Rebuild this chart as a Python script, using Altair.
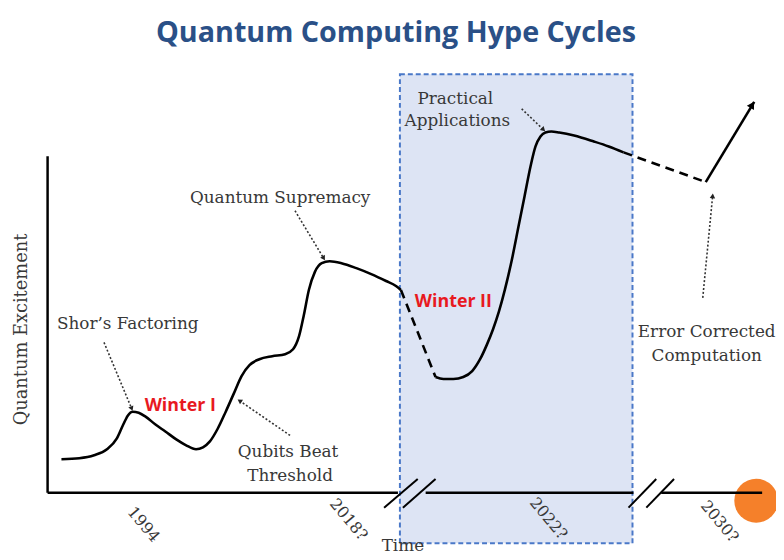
import altair as alt
import pandas as pd

# ---- data (time units / excitement units) ----
c1_x = [14, 32, 47, 60, 70, 76, 81, 86, 92, 99, 109, 119, 130, 140, 150, 157, 164, 172, 180, 188, 196, 204, 214, 227, 240, 248, 254, 259, 264, 270, 277, 285, 297, 312, 327, 342, 352, 357]
c1_y = [34, 35, 38, 44, 55, 68, 78, 82, 81, 77, 69, 62, 54, 48, 44, 46, 52, 65, 82, 100, 118, 129, 135, 138, 140, 145, 158, 180, 205, 223, 232, 234, 232, 227, 221, 214, 209, 205]
c2_x = [357, 392]
c2_y = [205, 117]
c3_x = [392, 400, 410, 420, 429, 437, 444, 450, 456, 462, 469, 476, 482, 488, 493, 498, 503, 509, 517, 532, 552, 567, 582]
c3_y = [117, 115, 115, 117, 123, 135, 150, 165, 183, 205, 235, 270, 300, 330, 350, 360, 364, 365, 364, 361, 355, 350, 344]
c4_x = [582, 665]
c4_y = [344, 314]
arrow_x = [665, 714]
arrow_y = [314, 395]

# dotted annotation arrows: start -> end
ann_x = [57, 245, 250, 479, 662]
ann_y = [152, 58, 285, 388, 197]
ann_x2 = [85, 194, 279, 501, 672]
ann_y2 = [85, 93, 237, 367, 300]
ann_angle = [157, 304, 149, 134, 5]

ann_labels = ["Quantum Supremacy", "Shor\u2019s Factoring", "Qubits Beat", "Threshold",
              "Practical", "Applications", "Error Corrected", "Computation"]
ann_lx = [235, 81, 243, 245, 412, 414, 666, 666]
ann_ly = [298, 171, 41, 17, 398, 376, 162, 138]

winter_labels = ["Winter I", "Winter II"]
winter_x = [134, 410]
winter_y = [88, 193]

tick_labels = ["1994", "2018?", "2022?", "2030?"]
tick_x = [97, 304, 506, 679]
tick_y = [-32, -27, -26, -29]

axis_x = [0, 382, 620, 0]
axis_x2 = [354, 592, 722, 0]
axis_y = [0, 0, 0, 0]
axis_y2 = [0, 0, 0, 340]
slash_x = [340, 359, 587, 605]
slash_x2 = [374, 392, 615, 633]
slash_y = [-15, -15, -15, -15]
slash_y2 = [14, 14, 14, 14]

box = {"x": [356], "x2": [591], "y": [423], "y2": [-51]}
dot = {"x": [716], "y": [-8]}

W, H = 776, 552
xs = alt.Scale(domain=[-40, 736], nice=False, zero=False)
ys = alt.Scale(domain=[-65, 487], nice=False, zero=False)
X = lambda f="x": alt.X(f"{f}:Q", scale=xs, axis=None)
Y = lambda f="y": alt.Y(f"{f}:Q", scale=ys, axis=None)

def line_df(xv, yv):
    return pd.DataFrame({"x": xv, "y": yv, "i": range(len(xv))})

serif = "DejaVu Serif"
gray = "#383838"

rect = alt.Chart(pd.DataFrame(box)).mark_rect(
    fill="#dde4f4", stroke="#4a78c8", strokeWidth=2, strokeDash=[5, 3]
).encode(x=X(), x2="x2", y=Y(), y2="y2")

circle = alt.Chart(pd.DataFrame(dot)).mark_point(
    shape="circle", filled=True, color="#f5802a", opacity=1, size=1960
).encode(x=X(), y=Y())

axes = alt.Chart(pd.DataFrame({"x": axis_x, "x2": axis_x2, "y": axis_y, "y2": axis_y2})).mark_rule(
    color="black", strokeWidth=2.5
).encode(x=X(), x2="x2", y=Y(), y2="y2")

slashes = alt.Chart(pd.DataFrame({"x": slash_x, "x2": slash_x2, "y": slash_y, "y2": slash_y2})).mark_rule(
    color="black", strokeWidth=2
).encode(x=X(), x2="x2", y=Y(), y2="y2")

def curve(xv, yv, dash=None):
    kw = dict(color="black", strokeWidth=2.6, interpolate="monotone")
    if dash:
        kw["strokeDash"] = dash
    return alt.Chart(line_df(xv, yv)).mark_line(**kw).encode(x=X(), y=Y(), order="i:Q")

seg1 = curve(c1_x, c1_y)
seg2 = curve(c2_x, c2_y, [9, 6])
seg3 = curve(c3_x, c3_y)
seg4 = curve(c4_x, c4_y, [9, 6])
seg5 = alt.Chart(line_df(arrow_x, arrow_y)).mark_line(color="black", strokeWidth=2.6).encode(
    x=X(), y=Y(), order="i:Q")
head = alt.Chart(pd.DataFrame({"x": [arrow_x[1] - 2], "y": [arrow_y[1] - 3], "a": [31]})).mark_point(
    shape="triangle-up", filled=True, color="black", opacity=1, size=70
).encode(x=X(), y=Y(), angle=alt.Angle("a:Q", scale=None))

ann_df = pd.DataFrame({"x": ann_x, "y": ann_y, "x2": ann_x2, "y2": ann_y2, "a": ann_angle})
ann = alt.Chart(ann_df).mark_rule(color="#333333", strokeWidth=1.6, strokeDash=[2, 2]).encode(
    x=X(), x2="x2", y=Y(), y2="y2")
ann_heads = alt.Chart(ann_df).mark_point(
    shape="triangle-up", filled=True, color="#222222", opacity=1, size=30
).encode(x=X("x2"), y=Y("y2"), angle=alt.Angle("a:Q", scale=None))

labels = alt.Chart(pd.DataFrame({"t": ann_labels, "x": ann_lx, "y": ann_ly})).mark_text(
    font=serif, fontSize=17, color=gray, align="center", baseline="middle"
).encode(x=X(), y=Y(), text="t:N")

winters = alt.Chart(pd.DataFrame({"t": winter_labels, "x": winter_x, "y": winter_y})).mark_text(
    font="Open Sans", fontSize=18, fontWeight="bold", color="#e8191f", align="center", baseline="middle"
).encode(x=X(), y=Y(), text="t:N")

ticks = alt.Chart(pd.DataFrame({"t": tick_labels, "x": tick_x, "y": tick_y})).mark_text(
    font=serif, fontSize=16, color=gray, align="center", baseline="middle", angle=50
).encode(x=X(), y=Y(), text="t:N")

ylab = alt.Chart(pd.DataFrame({"t": ["Quantum Excitement"], "x": [-26], "y": [165]})).mark_text(
    font=serif, fontSize=18, color=gray, align="center", baseline="middle", angle=270
).encode(x=X(), y=Y(), text="t:N")

xlab = alt.Chart(pd.DataFrame({"t": ["Time"], "x": [359], "y": [-54]})).mark_text(
    font=serif, fontSize=17, color=gray, align="center", baseline="middle"
).encode(x=X(), y=Y(), text="t:N")

title = alt.Chart(pd.DataFrame({"t": ["Quantum Computing Hype Cycles"], "x": [352], "y": [465]})).mark_text(
    font="Open Sans", fontSize=29, fontWeight="bold", color="#2a5087", align="center", baseline="middle"
).encode(x=X(), y=Y(), text="t:N")

chart = alt.layer(
    rect, circle, axes, slashes, seg1, seg2, seg3, seg4, seg5, head,
    ann, ann_heads, labels, winters, ticks, ylab, xlab, title
).properties(
    width=W, height=H, autosize=alt.AutoSizeParams(type="none"), padding=0
).configure_view(strokeWidth=0)

chart.save("out.html", embed_options={"renderer": "svg", "actions": False})
